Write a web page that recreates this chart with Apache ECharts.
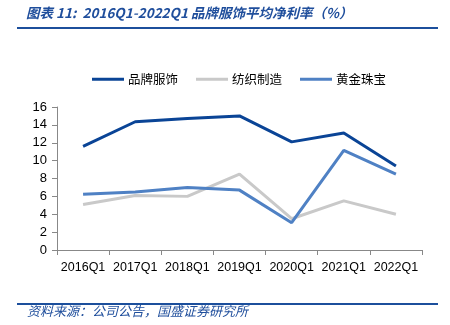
<!DOCTYPE html>
<html><head><meta charset="utf-8">
<script src="https://cdn.jsdelivr.net/npm/echarts@6/dist/echarts.min.js"></script>
<style>html,body{margin:0;padding:0;background:#fff}#c{width:450px;height:325px}</style>
</head><body><div id="c"></div>
<script>
var categories = ['2016Q1','2017Q1','2018Q1','2019Q1','2020Q1','2021Q1','2022Q1'];
var brandApparel = [11.6, 14.35, 14.7, 15.0, 12.1, 13.1, 9.4];
var textileMfg = [5.1, 6.1, 6.0, 8.5, 3.5, 5.5, 4.0];
var goldJewelry = [6.25, 6.5, 7.0, 6.7, 3.05, 11.15, 8.5];
var seriesNames = ['品牌服饰','纺织制造','黄金珠宝'];
var yTicks = {min:0, max:16, interval:2};

var chart = echarts.init(document.getElementById('c'), null, {renderer:'canvas'});
var cjk = '"Noto Sans CJK SC", sans-serif';
var lat = '"Liberation Sans", Arial, sans-serif';
function s(name, data, color){
  return {name:name, type:'line', data:data, symbol:'none', smooth:false,
    lineStyle:{color:color, width:3}, itemStyle:{color:color}};
}
chart.setOption({
  animation:false,
  graphic:[
    {type:'text', left:26, top:6, style:{text:'图表 11:  2016Q1-2022Q1 品牌服饰平均净利率（%）', fill:'#1f4e9c', font:'italic 600 13.5px "Noto Sans CJK SC", sans-serif'}},
    {type:'rect', shape:{x:17, y:27, width:421, height:2}, style:{fill:'#1c4f9c'}},
    {type:'rect', shape:{x:17, y:303, width:421, height:2}, style:{fill:'#1c4f9c'}},
    {type:'text', left:27, top:305, style:{text:'资料来源：公司公告，国盛证券研究所', fill:'#1f4e9c', font:'italic 13px "Noto Sans CJK SC", sans-serif'}}
  ],
  legend:{top:68, left:87, itemWidth:32, itemHeight:3, itemGap:18,
    icon:'rect',
    textStyle:{fontFamily:cjk, fontSize:12.5, color:'#000', padding:[0,0,0,-1]},
    data:seriesNames},
  grid:{left:57, right:28, top:107, bottom:75},
  xAxis:{type:'category', data:categories, boundaryGap:true,
    axisLine:{lineStyle:{color:'#888', width:1}},
    axisTick:{show:true, length:5, lineStyle:{color:'#888'}},
    axisLabel:{color:'#000', fontFamily:lat, fontSize:12.5, margin:11, interval:0}},
  yAxis:{type:'value', min:yTicks.min, max:yTicks.max, interval:yTicks.interval,
    axisLine:{show:true, lineStyle:{color:'#888'}},
    axisTick:{show:true, length:5, lineStyle:{color:'#888'}},
    splitLine:{show:false},
    axisLabel:{color:'#000', fontFamily:lat, fontSize:13, margin:10}},
  series:[
    s(seriesNames[0], brandApparel, '#0a4496'),
    s(seriesNames[1], textileMfg, '#c9c9c9'),
    s(seriesNames[2], goldJewelry, '#4f81c4')
  ]
});
</script></body></html>
